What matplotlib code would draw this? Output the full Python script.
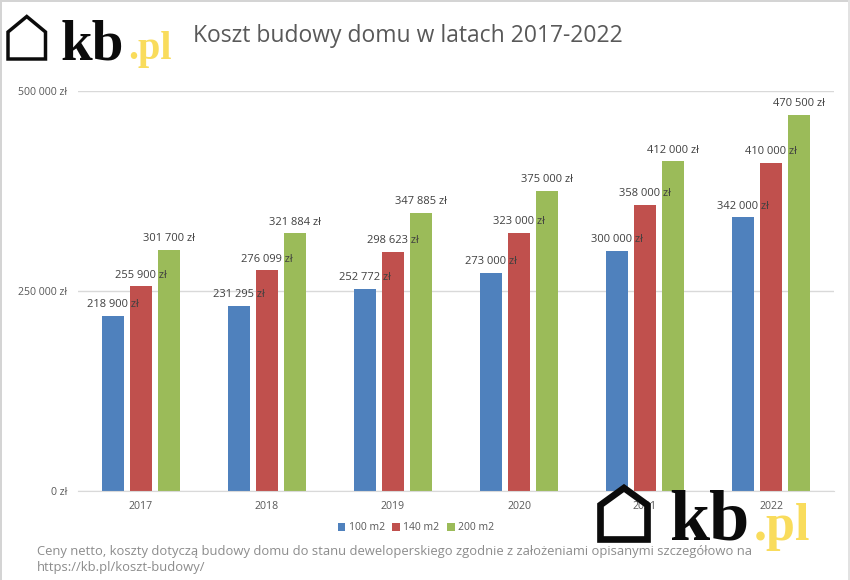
import matplotlib
matplotlib.use('Agg')
import numpy as np
import matplotlib.pyplot as plt
from matplotlib.patches import Polygon, Rectangle

plt.rcParams['font.family'] = ['Open Sans', 'DejaVu Sans']

years = ['2017', '2018', '2019', '2020', '2021', '2022']
series_names = ['100 m2', '140 m2', '200 m2']
m100 = [218900, 231295, 252772, 273000, 300000, 342000]
m140 = [255900, 276099, 298623, 323000, 358000, 410000]
m200 = [301700, 321884, 347885, 375000, 412000, 470500]
colors = ['#4f81bd', '#c0504d', '#9bbb59']
yticks = [0, 250000, 500000]


def money(v):
    return f'{v:,}'.replace(',', ' ') + ' zł'


fig = plt.figure(figsize=(8.5, 5.8), dpi=100)
ax = fig.add_axes([78 / 850, 1 - 491 / 580, (834 - 78) / 850, 400 / 580])

x = np.arange(len(years))
width = 0.178
step = 0.221
for i, vals in enumerate([m100, m140, m200]):
    pos = x + (i - 1) * step
    ax.bar(pos, vals, width, color=colors[i], label=series_names[i], zorder=2)
    for p, v in zip(pos, vals):
        ax.annotate(money(v), (p, v), xytext=(0, 8), textcoords='offset points',
                    ha='center', va='center', fontsize=8, color='#404040', zorder=3)

ax.set_xlim(-0.5, 5.5)
ax.set_ylim(0, 500000)
ax.set_xticks(x, years)
ax.set_yticks(yticks, [money(v) for v in yticks])
ax.tick_params(axis='both', length=0, labelsize=7.6, labelcolor='#595959')
ax.tick_params(axis='x', pad=7)
ax.tick_params(axis='y', pad=8)
ax.grid(axis='y', color='#d9d9d9', lw=1, zorder=0)
ax.set_axisbelow(True)
for s in ['top', 'right', 'left']:
    ax.spines[s].set_visible(False)
ax.spines['bottom'].set_color('#d9d9d9')

fig.legend(loc='center', bbox_to_anchor=(416 / 850, 1 - 528 / 580), ncol=3, frameon=False,
           fontsize=7.5, labelcolor='#595959', handlelength=0.7, handleheight=0.7,
           handletextpad=0.35, columnspacing=0.75)

# overlay in pixel coordinates for logos, title, footer
ov = fig.add_axes([0, 0, 1, 1], zorder=5)
ov.set_xlim(0, 850)
ov.set_ylim(580, 0)
ov.axis('off')
ov.patch.set_alpha(0)

# image frame
ov.add_patch(Rectangle((0, 0), 2.5, 580, color='#d4d4d4', lw=0))
ov.add_patch(Rectangle((0, 0), 850, 1.5, color='#d4d4d4', lw=0))
ov.add_patch(Rectangle((848, 0), 2, 580, color='#e2e2e2', lw=0))

ov.text(193, 36, 'Koszt budowy domu w latach 2017-2022', fontsize=16.5, color='#595959',
        ha='left', va='center')
ov.text(37, 551, 'Ceny netto, koszty dotyczą budowy domu do stanu deweloperskiego zgodnie z założeniami opisanymi szczegółowo na',
        fontsize=9.33, color='#8c8c8c', ha='left', va='center')
ov.text(37, 567, 'https://kb.pl/koszt-budowy/', fontsize=9.33, color='#8c8c8c', ha='left', va='center')


def logo(xl, xr, apex, shoulder, bottom, lw, kb_x, base, kb_size, pl_x, pl_size):
    xm = (xl + xr) / 2
    ov.add_patch(Polygon([(xl, bottom), (xl, shoulder), (xm, apex), (xr, shoulder), (xr, bottom)],
                         closed=True, fill=False, edgecolor='#0b0b0b', lw=lw, joinstyle='miter'))
    ov.text(kb_x, base, 'kb', family='Liberation Serif', weight='bold', fontsize=kb_size,
            color='#0b0b0b', ha='left', va='baseline')
    ov.text(pl_x, base, '.pl', family='Liberation Serif', weight='bold', fontsize=pl_size,
            color='#f9dc5c', ha='left', va='baseline')


logo(8, 45.5, 16.5, 32, 59, 2.5, 61, 59, 41, 128, 29)
logo(600.5, 647.5, 488, 505, 539.5, 4.8, 669, 540, 52, 754, 37.5)

fig.savefig('out.png', dpi=100)
